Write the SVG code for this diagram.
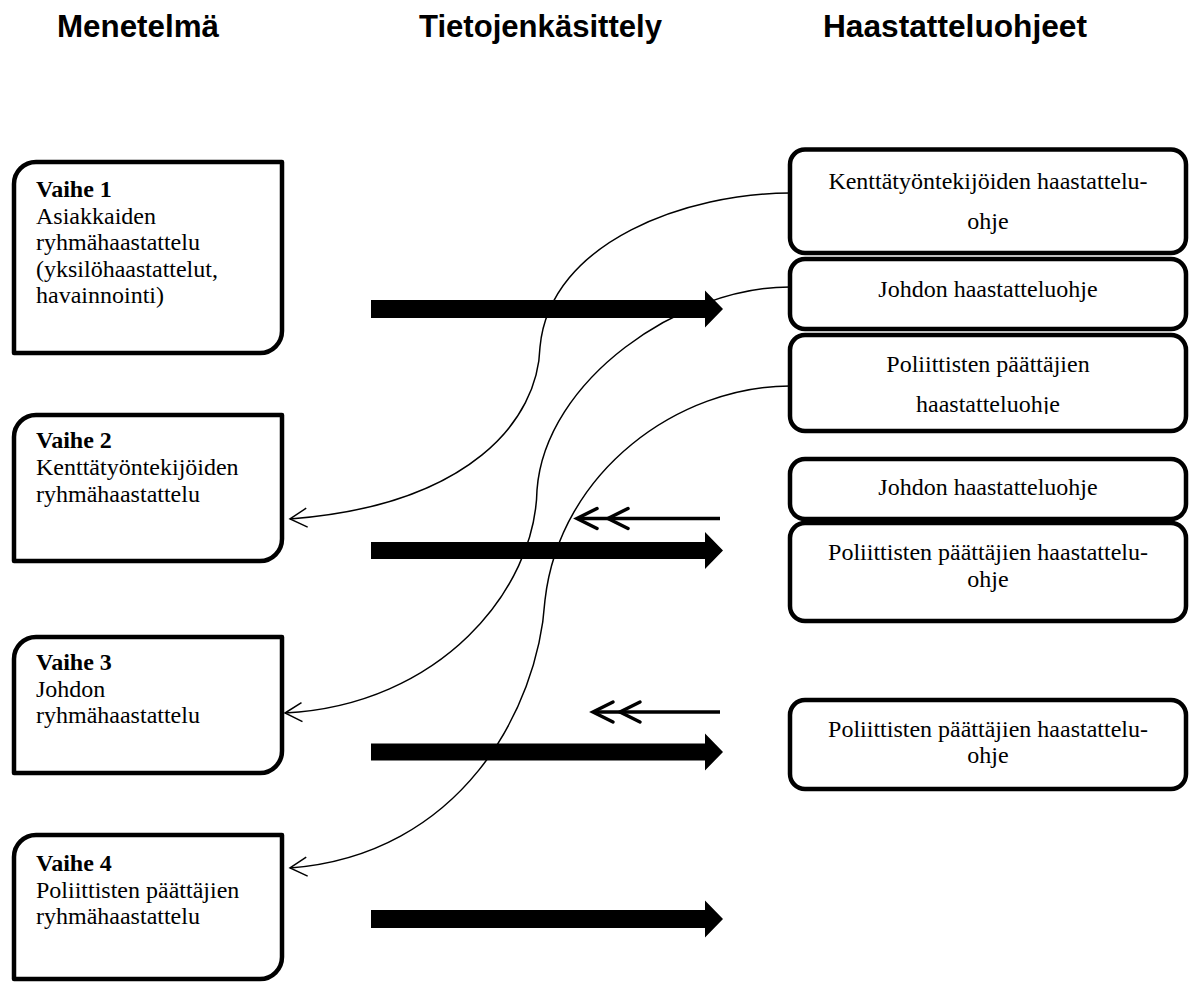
<svg xmlns="http://www.w3.org/2000/svg" width="1197" height="983" viewBox="0 0 1197 983">
<style>
.hdr{font-family:"Liberation Sans",Arial,sans-serif;font-weight:bold;font-size:31px;fill:#000}
.txt{font-family:"Liberation Serif","Times New Roman",serif;font-size:24px;fill:#000}
.b{font-weight:bold}
.lbox{fill:#fff;stroke:#000;stroke-width:4.5;stroke-linejoin:round}
.rbox{fill:#fff;stroke:#000;stroke-width:4.5}
.curve{fill:none;stroke:#000;stroke-width:1.5}
.thin{fill:none;stroke:#000;stroke-width:3.5}
.chev{fill:none;stroke:#000;stroke-width:3.5;stroke-linecap:round;stroke-linejoin:miter}
.fat{fill:#000;stroke:none}
</style>
<defs>
<marker id="open" markerUnits="userSpaceOnUse" markerWidth="24" markerHeight="24" viewBox="-20 -12 24 24" refX="0" refY="0" orient="auto">
<path d="M-17,-9.5 L0,0 L-17,9.5" fill="none" stroke="#000" stroke-width="1.5"/>
</marker>
<clipPath id="clipC"><rect x="790" y="335" width="396" height="79"/></clipPath>
</defs>
<rect width="1197" height="983" fill="#fff"/>

<g id="headers">
<text class="hdr" x="57" y="37" textLength="162" lengthAdjust="spacingAndGlyphs">Menetelmä</text>
<text class="hdr" x="419" y="37" textLength="243" lengthAdjust="spacingAndGlyphs">Tietojenkäsittely</text>
<text class="hdr" x="823" y="37" textLength="264" lengthAdjust="spacingAndGlyphs">Haastatteluohjeet</text>
</g>

<g id="connectors">
<g id="fat-arrows">
<path class="fat" d="M371,300 H705 V290.5 L723,309 L705,327.5 V318 H371 Z"/>
<path class="fat" d="M371,542 H705 V532 L723,550.5 L705,569 V559 H371 Z"/>
<path class="fat" d="M371,743.5 H705 V733.5 L723,752 L705,770.5 V760.5 H371 Z"/>
<path class="fat" d="M371,910 H705 V900.5 L723,919 L705,937.5 V928 H371 Z"/>
</g>
<g id="curves">
<path class="curve" marker-end="url(#open)" d="M790,193 C690,193 550,240 540,347 C538,420 470,505 290,519"/>
<path class="curve" marker-end="url(#open)" d="M790,287 C680,287 545,380 537,490 C535,590 440,705 285,713"/>
<path class="curve" marker-end="url(#open)" d="M790,386 C680,386 560,470 545,600 C538,710 460,855 290,868"/>
</g>
<g id="double-arrows">
<path class="thin" d="M720,518.5 H580"/>
<path class="chev" d="M597,508.5 L577,518.5 L597,528.5 M628,508.5 L608,518.5 L628,528.5"/>
<path class="thin" d="M720,712 H596"/>
<path class="chev" d="M613,702 L593,712 L613,722 M640,702 L620,712 L640,722"/>
</g>
</g>

<g id="vaihe1">
<path class="lbox" d="M14,353 V184 A22,22 0 0 1 36,162 H282 V331 A22,22 0 0 1 260,353 Z"/>
<text class="txt b" x="36" y="197">Vaihe 1</text>
<text class="txt" x="36" y="224">Asiakkaiden</text>
<text class="txt" x="36" y="250">ryhmähaastattelu</text>
<text class="txt" x="36" y="277">(yksilöhaastattelut,</text>
<text class="txt" x="36" y="303">havainnointi)</text>
</g>
<g id="vaihe2">
<path class="lbox" d="M14,561 V437 A22,22 0 0 1 36,415 H282 V539 A22,22 0 0 1 260,561 Z"/>
<text class="txt b" x="36" y="448">Vaihe 2</text>
<text class="txt" x="36" y="475">Kenttätyöntekijöiden</text>
<text class="txt" x="36" y="502">ryhmähaastattelu</text>
</g>
<g id="vaihe3">
<path class="lbox" d="M14,773 V659 A22,22 0 0 1 36,637 H282 V751 A22,22 0 0 1 260,773 Z"/>
<text class="txt b" x="36" y="670">Vaihe 3</text>
<text class="txt" x="36" y="697">Johdon</text>
<text class="txt" x="36" y="723">ryhmähaastattelu</text>
</g>
<g id="vaihe4">
<path class="lbox" d="M14,979 V857 A22,22 0 0 1 36,835 H282 V957 A22,22 0 0 1 260,979 Z"/>
<text class="txt b" x="36" y="871">Vaihe 4</text>
<text class="txt" x="36" y="898">Poliittisten päättäjien</text>
<text class="txt" x="36" y="924">ryhmähaastattelu</text>
</g>

<g id="ohje-kentta">
<rect class="rbox" x="790" y="149.5" width="396" height="103.5" rx="15" ry="15"/>
<text class="txt" x="988" y="189" text-anchor="middle">Kenttätyöntekijöiden haastattelu-</text>
<text class="txt" x="988" y="229" text-anchor="middle">ohje</text>
</g>
<g id="ohje-johto-1">
<rect class="rbox" x="790" y="259" width="396" height="70" rx="15" ry="15"/>
<text class="txt" x="988" y="297" text-anchor="middle">Johdon haastatteluohje</text>
</g>
<g id="ohje-poli-1">
<rect class="rbox" x="790" y="335" width="396" height="96" rx="15" ry="15"/>
<text class="txt" x="988" y="372" text-anchor="middle">Poliittisten päättäjien</text>
<text class="txt" x="988" y="412" text-anchor="middle" clip-path="url(#clipC)">haastatteluohje</text>
</g>
<g id="ohje-johto-2">
<rect class="rbox" x="790" y="459" width="396" height="60" rx="15" ry="15"/>
<text class="txt" x="988" y="495" text-anchor="middle">Johdon haastatteluohje</text>
</g>
<g id="ohje-poli-2">
<rect class="rbox" x="790" y="523" width="396" height="98" rx="15" ry="15"/>
<text class="txt" x="988" y="560" text-anchor="middle">Poliittisten päättäjien haastattelu-</text>
<text class="txt" x="988" y="587" text-anchor="middle">ohje</text>
</g>
<g id="ohje-poli-3">
<rect class="rbox" x="790" y="700" width="396" height="89" rx="15" ry="15"/>
<text class="txt" x="988" y="737" text-anchor="middle">Poliittisten päättäjien haastattelu-</text>
<text class="txt" x="988" y="763" text-anchor="middle">ohje</text>
</g>
</svg>
